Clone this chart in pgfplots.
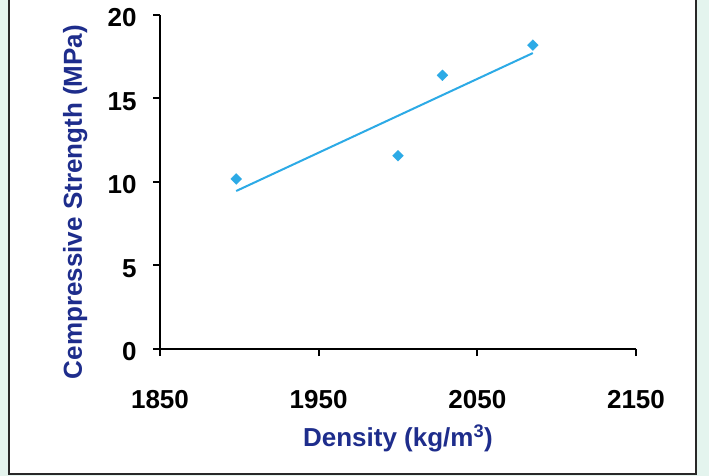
\documentclass[border=0pt]{standalone}
\usepackage{pgfplots}
\pgfplotsset{compat=1.18}
\usepackage{fontspec}
\setmainfont{Liberation Sans}
\definecolor{mint}{RGB}{228,244,238}
\definecolor{navy}{RGB}{30,45,140}
\definecolor{sky}{RGB}{44,170,230}
\definecolor{framec}{RGB}{40,40,40}
\begin{document}
\begin{tikzpicture}
\fill[mint] (0pt,0pt) rectangle (709pt,476pt);
\fill[white] (9pt,2pt) rectangle (696pt,476pt);
\draw[framec, line width=1.5pt] (9pt,480pt) -- (9pt,2pt) -- (696pt,2pt) -- (696pt,480pt);
\begin{axis}[
  at={(160pt,127pt)}, anchor=south west,
  scale only axis, width=476pt, height=334pt,
  xmin=1850, xmax=2150, ymin=0, ymax=20,
  axis x line=bottom, axis y line=left,
  axis line style={-, line width=2pt, black},
  xtick={1850,1950,2050,2150}, ytick={0,5,10,15,20},
  tick align=outside, major tick length=7pt,
  tick style={line width=2pt, black},
  /pgf/number format/assume math mode=true,
  /pgf/number format/1000 sep={},
  tick label style={font=\fontsize{26}{30}\selectfont\bfseries},
  xticklabel style={anchor=base, yshift=-52pt},
  yticklabel style={anchor=east, xshift=-13pt, yshift=-3pt},
  xlabel={Density (kg/m\textsuperscript{3})},
  ylabel={Cempressive Strength (MPa)},
  label style={font=\fontsize{26}{30}\selectfont\bfseries, text=navy},
  xlabel style={at={(rel axis cs:0.5,0)}, anchor=base, yshift=-98pt},
  ylabel style={at={(rel axis cs:0,0.44)}, anchor=base, yshift=78pt},
  clip=false,
]
\addplot[sky, line width=2pt] coordinates {(1898,9.46) (2085,17.72)};
\addplot[only marks, mark=square*, mark size=3.8pt, sky, mark options={rotate=45, fill=sky, draw=sky}]
  coordinates {(1898,10.18) (2000,11.57) (2028,16.39) (2085,18.2)};
\end{axis}
\pgfresetboundingbox
\useasboundingbox (0pt,0pt) rectangle (709pt,476pt);
\end{tikzpicture}
\end{document}
